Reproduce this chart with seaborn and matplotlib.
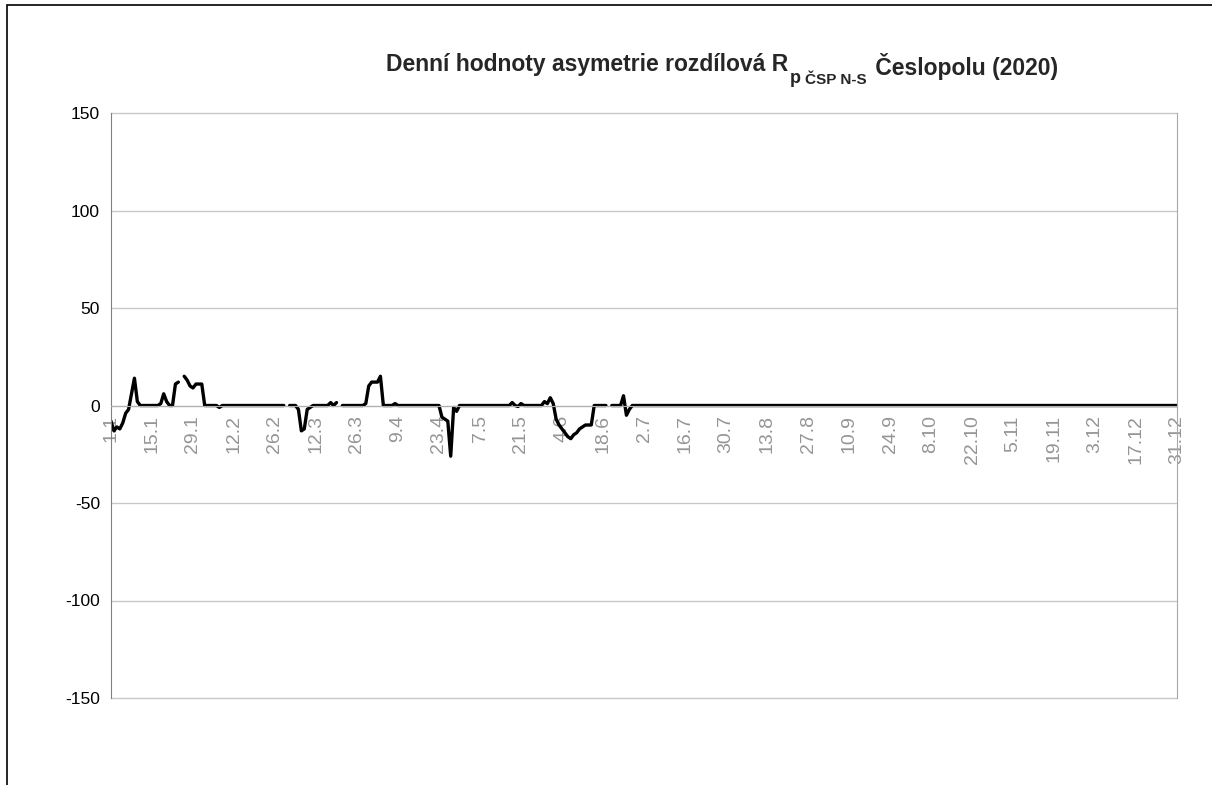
import matplotlib
matplotlib.use('Agg')

import matplotlib.pyplot as plt
from matplotlib.patches import Rectangle
import seaborn as sns
import numpy as np
import pandas as pd

nan = np.nan

# daily values, 1.1 .. 28.6 (after that the series stays at 0)
rp_first_half = [
    -8, -13, -11, -12, -9, -4, -2, 6, 14, 2,          # 1.1 - 10.1
    0, 0, 0, 0, 0, 0, 0, 1, 6, 2,                     # 11.1 - 20.1
    0, 0, 11, 12, nan, 15, 13, 10, 9, 11,             # 21.1 - 30.1
    11, 11, 0, 0, 0, 0, 0, -1, 0, 0,                  # 31.1 - 9.2
    0, 0, 0, 0, 0, 0, 0, 0, 0, 0,                     # 10.2 - 19.2
    0, 0, 0, 0, 0, 0, 0, 0, 0, 0,                     # 20.2 - 1.3
    nan, 0, 0, 0, -2, -13, -12, -2, -1, 0,            # 2.3 - 11.3
    0, 0, 0, 0, 0, 1.5, 0, 1.5, nan, 0,               # 12.3 - 21.3
    0, 0, 0, 0, 0, 0, 0, 1, 10, 12,                   # 22.3 - 31.3
    12, 12, 15, 0, 0, 0, 0, 1, 0, 0,                  # 1.4 - 10.4
    0, 0, 0, 0, 0, 0, 0, 0, 0, 0,                     # 11.4 - 20.4
    0, 0, 0, -6, -7, -8, -26, -1, -3, 0,              # 21.4 - 30.4
    0, 0, 0, 0, 0, 0, 0, 0, 0, 0,                     # 1.5 - 10.5
    0, 0, 0, 0, 0, 0, 0, 1.5, 0, -0.5,                # 11.5 - 20.5
    1, 0, 0, 0, 0, 0, 0, 0, 2, 1,                     # 21.5 - 30.5
    4, 1, -7, -10, -12, -14, -16, -17, -15, -14,      # 31.5 - 9.6
    -12, -11, -10, -10, -10, 0, 0, 0, 0, 0,           # 10.6 - 19.6
    nan, 0, 0, 0, 0, 5, -5, -2, 0,                    # 20.6 - 28.6
]
rp_second_half = [0.0] * (365 - len(rp_first_half))
rp_values = rp_first_half + rp_second_half

tick_labels = ["1.1", "15.1", "29.1", "12.2", "26.2", "12.3", "26.3", "9.4", "23.4",
               "7.5", "21.5", "4.6", "18.6", "2.7", "16.7", "30.7", "13.8", "27.8",
               "10.9", "24.9", "8.10", "22.10", "5.11", "19.11", "3.12", "17.12", "31.12"]
y_ticks = [-150, -100, -50, 0, 50, 100, 150]

df = pd.DataFrame({'day': np.arange(len(rp_values)), 'rp': rp_values})
df['seg'] = df['rp'].isna().cumsum()   # break the line at missing days
df = df.dropna()

sns.set_style('white')
plt.rcParams['font.family'] = ['Liberation Sans', 'DejaVu Sans']

fig = plt.figure(figsize=(12.12, 7.85), dpi=100)
ax = fig.add_axes([111/1212, 1 - 698/785, (1177 - 111)/1212, (698 - 113)/785])

sns.lineplot(data=df, x='day', y='rp', units='seg', estimator=None, color='black',
             linewidth=2.4, legend=False, ax=ax)

ax.set_xlim(0, 364)
ax.set_ylim(-150, 150)
ax.tick_params(axis='x', direction='out', length=5, width=1, color='#a0a0a0', pad=2,
               labelrotation=90, labelsize=14, labelcolor='#959595')
ax.tick_params(axis='y', direction='out', length=0, pad=8, labelsize=12.5, labelcolor='black')
ax.set_yticks(y_ticks)
ax.set_yticklabels([str(v) for v in y_ticks])
ax.set_xticks(np.arange(0, 365, 14))
ax.set_xticklabels(tick_labels)

ax.grid(axis='y', color='#c8c8c8', linewidth=1)
for gl in ax.get_ygridlines():
    gl.set_clip_on(False)   # keep the -150 / 150 lines fully visible
ax.set_axisbelow(True)
ax.set_xlabel('')
ax.set_ylabel('')

ax.spines['top'].set_visible(False)
ax.spines['right'].set_color('#a8a8a8')
ax.spines['left'].set_color('#808080')
ax.spines['bottom'].set_position(('data', 0))
ax.spines['bottom'].set_color('#b0b0b0')

# title with subscript, built from pieces
t1 = fig.text(386/1212, 1 - 71/785, 'Denní hodnoty asymetrie rozdílová R',
              fontsize=16.5, fontweight='bold', ha='left', va='baseline')
t2 = ax.annotate('p', xy=(1, 0), xycoords=t1, xytext=(1, -5), textcoords='offset points',
                 fontsize=13, fontweight='bold', ha='left', va='baseline')
t3 = ax.annotate('ČSP N-S', xy=(1, 0), xycoords=t2, xytext=(3, 0), textcoords='offset points',
                 fontsize=11, fontweight='bold', ha='left', va='bottom')
ax.annotate(' Česlopolu (2020)', xy=(1, 0), xycoords=t3, xytext=(2, 5), textcoords='offset points',
            fontsize=16.5, fontweight='bold', ha='left', va='bottom')

# chart area frame
fig.patches.append(Rectangle((7/1212, -0.05), 1.1, 1.05 - 5/785, transform=fig.transFigure,
                             fill=False, edgecolor='black', linewidth=1.2))

fig.savefig('out.png', dpi=100)
